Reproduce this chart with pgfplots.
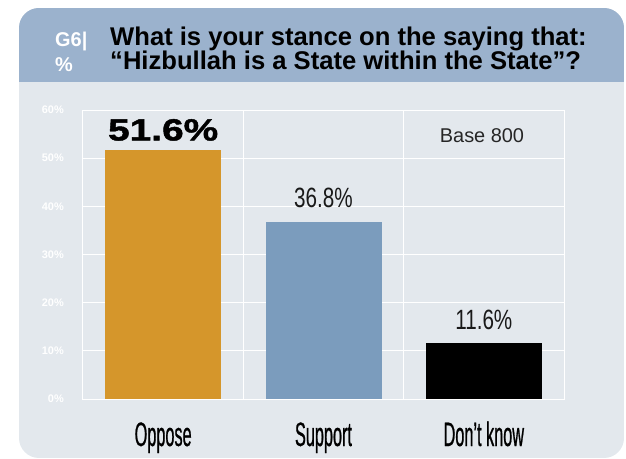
\documentclass[border=0pt]{standalone}
\usepackage{pgfplots}
\pgfplotsset{compat=1.18}
\usepackage{fontspec}
\setmainfont{Liberation Sans}
\newfontfamily\condfont[FakeStretch=0.48,FakeBold=0.6]{Liberation Sans}
\newfontfamily\narrowfont[FakeStretch=0.74]{Liberation Sans}
\newfontfamily\widefont[FakeStretch=1.27,FakeBold=1.5]{Liberation Sans}
\definecolor{hdr}{HTML}{9BB2CD}
\definecolor{bodybg}{HTML}{E3E8ED}
\definecolor{opp}{HTML}{D5962B}
\definecolor{sup}{HTML}{7B9CBD}
\begin{document}
\begin{tikzpicture}
\path[use as bounding box] (-83bp,-60bp) rectangle (543bp,399bp);
\begin{scope}
\clip[rounded corners=20bp] (-64bp,-59bp) rectangle (541bp,391bp);
\fill[bodybg] (-64bp,-59bp) rectangle (541bp,391bp);
\fill[hdr] (-64bp,317bp) rectangle (541bp,391bp);
\end{scope}
\begin{axis}[
 at={(0,0)}, anchor=south west,
 scale only axis, width=481bp, height=289bp,
 /pgf/number format/assume math mode=true,
 xmin=-0.5, xmax=2.5, ymin=0, ymax=60,
 xtick={0,1,2}, xticklabels={Oppose,Support,Don’t know},
 ytick={0,10,...,60},
 yticklabel={\pgfmathprintnumber{\tick}\%},
 extra x ticks={0.5,1.5}, extra x tick labels={},
 extra x tick style={grid=major},
 ymajorgrids,
 major grid style={white,line width=1bp},
 axis line style={white,line width=1bp},
 major tick length=0pt,
 tick style={draw=none},
 yticklabel style={font=\bfseries\fontsize{11}{11}\selectfont, text=white, anchor=east, inner sep=0pt, xshift=-19bp},
 xticklabel style={font=\condfont\fontsize{34}{34}\selectfont, text=black, anchor=base, inner sep=0pt, yshift=-47bp},
 ybar, bar width=116bp,
 nodes near coords={\pgfmathprintnumber[fixed,fixed zerofill,precision=1]{\pgfplotspointmeta}\%},
 every node near coord/.append style={anchor=base, inner sep=0pt, text=black},
]
\addplot[fill=opp, draw=none, bar shift=0pt, every node near coord/.append style={font=\widefont\bfseries\fontsize{30.7}{30.7}\selectfont, yshift=10bp}] coordinates {(0,51.6)};
\addplot[fill=sup, draw=none, bar shift=0pt, every node near coord/.append style={font=\narrowfont\fontsize{28}{28}\selectfont, text=black!90, yshift=14bp}] coordinates {(1,36.8)};
\addplot[fill=black, draw=none, bar shift=0pt, every node near coord/.append style={font=\narrowfont\fontsize{28}{28}\selectfont, text=black!90, yshift=14bp}] coordinates {(2,11.6)};
\end{axis}
\node[anchor=base, inner sep=0pt, font=\fontsize{20}{20}\selectfont, text=black!85] at (399bp,256bp) {Base 800};
\node[anchor=base west, inner sep=0pt, font=\bfseries\fontsize{25.7}{25.7}\selectfont] at (27bp,353bp) {What is your stance on the saying that:};
\node[anchor=base west, inner sep=0pt, font=\bfseries\fontsize{25.7}{25.7}\selectfont] at (27bp,329bp) {“Hizbullah is a State within the State”?};
\node[anchor=base west, inner sep=0pt, text=white, font=\bfseries\fontsize{20}{20}\selectfont] at (-28bp,352bp) {G6|};
\node[anchor=base west, inner sep=0pt, text=white, font=\bfseries\fontsize{20}{20}\selectfont] at (-28bp,327bp) {\%};
\end{tikzpicture}
\end{document}
